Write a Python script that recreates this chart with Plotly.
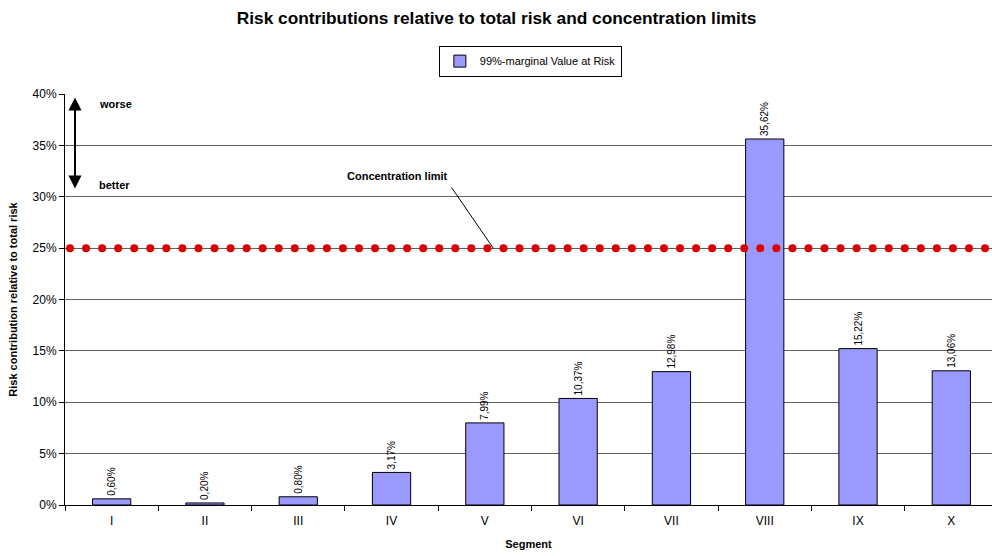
import numpy as np
import plotly.graph_objects as go

segments = ["I", "II", "III", "IV", "V", "VI", "VII", "VIII", "IX", "X"]
var_contrib = [0.60, 0.20, 0.80, 3.17, 7.99, 10.37, 12.98, 35.62, 15.22, 13.06]
concentration_limit = 25.0
y_ticks = [0, 5, 10, 15, 20, 25, 30, 35, 40]
y_tick_labels = ["0%", "5%", "10%", "15%", "20%", "25%", "30%", "35%", "40%"]

FONT = "Liberation Sans, Arial, sans-serif"
N_DOTS = 58

fig = go.Figure()
fig.add_trace(go.Bar(
    x=segments, y=var_contrib, name="99%-marginal Value at Risk",
    marker=dict(color="#9999FF", line=dict(color="#000000", width=1)),
    texttemplate="%{y:.2f}%", textposition="outside", textangle=-90,
    textfont=dict(size=10, color="#000000", family=FONT),
    cliponaxis=False,
))
dots_x = np.linspace(0.0054, 0.9925, N_DOTS)
fig.add_trace(go.Scatter(
    x=dots_x, y=[concentration_limit] * N_DOTS, xaxis="x2", mode="markers",
    marker=dict(color="#DD0000", size=8), showlegend=False, hoverinfo="skip",
))

fig.update_layout(
    width=992, height=556,
    margin=dict(l=65, r=0, t=94, b=51),
    paper_bgcolor="white", plot_bgcolor="white",
    separators=",.",
    font=dict(family=FONT, size=12, color="#000000"),
    title=dict(text="<b>Risk contributions relative to total risk and concentration limits</b>",
               x=(237 + 756) / 2 / 992, xanchor="center", y=1 - 18 / 556, yanchor="middle",
               font=dict(size=17.3, family=FONT, color="#000000")),
    bargap=0.59,
    showlegend=True,
    legend=dict(x=0.502, xanchor="center", y=1.08, yanchor="middle",
                bordercolor="#000000", borderwidth=1, bgcolor="white",
                font=dict(size=11, family=FONT), itemwidth=30),
    xaxis=dict(type="category", range=[-0.5, 9.436], showgrid=False, showline=True,
               linecolor="#000000", linewidth=1, ticks="outside", tickson="boundaries",
               ticklen=5, tickcolor="#000000", tickfont=dict(size=12),
               ticklabelstandoff=5,
               title=dict(text="<b>Segment</b>", font=dict(size=11), standoff=12)),
    xaxis2=dict(overlaying="x", range=[0, 1], visible=False),
    yaxis=dict(range=[0, 40], tickmode="array", tickvals=y_ticks, ticktext=y_tick_labels,
               showgrid=True, gridcolor="#606060", gridwidth=1, showline=True,
               linecolor="#000000", linewidth=1, ticks="outside", ticklen=5,
               tickcolor="#000000", tickfont=dict(size=12), zeroline=False,
               title=dict(text="<b>Risk contribution relative to total risk</b>",
                          font=dict(size=11), standoff=12)),
)

fig.add_annotation(x=0.0108, xref="paper", y=30.8, yref="y", ax=0.0108, axref="x2",
                   ay=39.8, ayref="y", text="", showarrow=True,
                   arrowhead=2, arrowside="end+start", arrowsize=1.3, arrowwidth=2,
                   arrowcolor="#000000")
fig.add_annotation(x=0.034, xref="paper", y=39.0, yref="y", text="<b>worse</b>",
                   showarrow=False, xanchor="left", font=dict(size=11))
fig.add_annotation(x=0.034, xref="paper", y=31.1, yref="y", text="<b>better</b>",
                   showarrow=False, xanchor="left", font=dict(size=11))
fig.add_annotation(x=0.359, xref="paper", y=32.0, yref="y", text="<b>Concentration limit</b>",
                   showarrow=False, xanchor="center", font=dict(size=11))
fig.add_shape(type="line", xref="paper", yref="y", x0=0.417, y0=30.9, x1=0.462,
              y1=concentration_limit, line=dict(color="#000000", width=1))

fig.write_html("out.html", config={"displayModeBar": False},
               post_script="document.body.style.margin='0px';")
